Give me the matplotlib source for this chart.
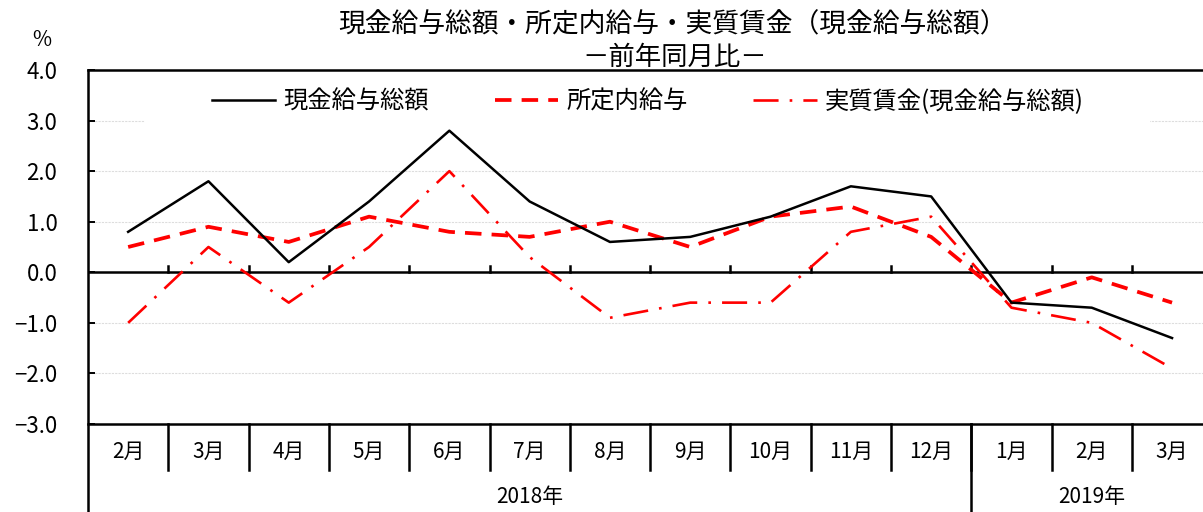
import matplotlib
matplotlib.use("Agg")
import matplotlib.pyplot as plt
import matplotlib.transforms as mtransforms
from matplotlib.patches import Rectangle

plt.rcParams['font.family'] = ['Noto Sans CJK JP', 'DejaVu Sans']

months = ["2月", "3月", "4月", "5月", "6月", "7月", "8月", "9月", "10月", "11月", "12月", "1月", "2月", "3月"]
years = ["2018年", "2019年"]
year_counts = [11, 3]
total_pay = [0.8, 1.8, 0.2, 1.4, 2.8, 1.4, 0.6, 0.7, 1.1, 1.7, 1.5, -0.6, -0.7, -1.3]
scheduled_pay = [0.5, 0.9, 0.6, 1.1, 0.8, 0.7, 1.0, 0.5, 1.1, 1.3, 0.7, -0.6, -0.1, -0.6]
real_wage = [-1.0, 0.5, -0.6, 0.5, 2.0, 0.3, -0.9, -0.6, -0.6, 0.8, 1.1, -0.7, -1.0, -1.9]
series_names = ["現金給与総額", "所定内給与", "実質賃金(現金給与総額)"]
yticks = [4.0, 3.0, 2.0, 1.0, 0.0, -1.0, -2.0, -3.0]

W, H = 1203, 512
fig = plt.figure(figsize=(W / 100, H / 100), dpi=100)
ax_left, ax_top, ax_bottom = 88, 70, 424
cat_w = 80.3
n = len(months)
ax_w = n * cat_w
ax_h = ax_bottom - ax_top
ax = fig.add_axes([ax_left / W, (H - ax_bottom) / H, ax_w / W, ax_h / H])

LW = 1.8
x = list(range(n))
ax.plot(x, total_pay, color="black", lw=1.8, label=series_names[0], zorder=4)
ax.plot(x, scheduled_pay, color="#ff0000", lw=2.7, linestyle=(0, (4.4, 2.7)), label=series_names[1], zorder=3)
ax.plot(x, real_wage, color="#ff0000", lw=1.9, linestyle=(0, (9.5, 4.2, 1, 4.2)), label=series_names[2], zorder=3)

ax.set_xlim(-0.5, n - 0.5)
ax.set_ylim(-3.0, 4.0)
ax.set_yticks(yticks)
ax.set_yticklabels([f"{v:.1f}".replace("-", "−") for v in yticks], fontsize=16)
ax.tick_params(axis="y", direction="in", length=5, width=1.4, pad=22)
ax.set_xticks([])
for v in [3.0, 2.0, 1.0, -1.0, -2.0]:
    ax.axhline(v, color="#dddddd", lw=0.8, linestyle=(0, (2, 1)), zorder=1)
ax.axhline(0, color="black", lw=LW, zorder=2)
for i in range(n - 1):
    ax.plot([i + 0.5, i + 0.5], [0, 0.13], color="black", lw=LW, zorder=2)

for s in ax.spines.values():
    s.set_linewidth(LW)
ax.spines["left"].set_visible(False)

# white legend area (hides gridline behind legend)
ax.add_patch(Rectangle(((145 - ax_left) / ax_w, (ax_bottom - 124) / ax_h), (1150 - 145) / ax_w, 44 / ax_h,
                       transform=ax.transAxes, facecolor="white", edgecolor="none", zorder=1.5))

# Category table below axes
tr = mtransforms.blended_transform_factory(ax.transData, fig.transFigure)
y_axis_bottom = (H - ax_bottom) / H
y_axis_top = (H - ax_top) / H
y_row = (H - 470) / H
ax.plot([-0.5, -0.5], [0, y_axis_top], transform=tr, color="black", lw=LW, clip_on=False,
        solid_capstyle="projecting")
for i in range(n - 1):
    ax.plot([i + 0.5, i + 0.5], [y_row, y_axis_bottom], transform=tr, color="black", lw=LW, clip_on=False)
for i in range(n):
    ax.text(i, (H - 452) / H, months[i], transform=tr, ha="center", va="center", fontsize=15)
start = 0
for yname, cnt in zip(years, year_counts):
    end = start + cnt
    if end < n:
        ax.plot([end - 0.5, end - 0.5], [0, y_axis_bottom], transform=tr, color="black", lw=LW, clip_on=False)
    ax.text((start + end - 1) / 2, (H - 497) / H, yname, transform=tr, ha="center", va="center", fontsize=15)
    start = end

leg = ax.legend(loc="center left", bbox_to_anchor=((212 - ax_left) / ax_w, (ax_bottom - 102) / ax_h),
                ncol=3, frameon=False, fontsize=17.5, handlelength=2.6, columnspacing=2.7,
                handletextpad=0.35, borderpad=0.0, borderaxespad=0.0)
leg.set_zorder(5)

fig.text(672 / W, 1 - 25 / H, "現金給与総額・所定内給与・実質賃金（現金給与総額）", ha="center", va="center", fontsize=19.3)
fig.text(675 / W, 1 - 57 / H, "－前年同月比－", ha="center", va="center", fontsize=19)
fig.text(42 / W, 1 - 40 / H, "%", ha="center", va="center", fontsize=15)

fig.savefig("out.png", dpi=100)
